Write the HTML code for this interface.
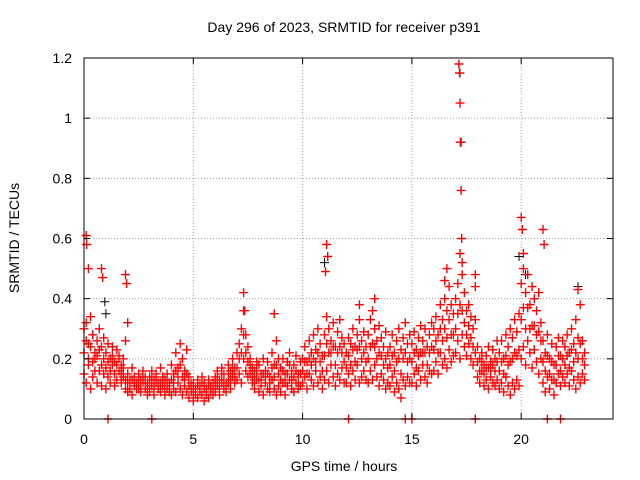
<!DOCTYPE html>
<html><head><meta charset="utf-8"><style>
body{margin:0;background:#fff;}
svg{display:block;font-family:"Liberation Sans",sans-serif;}
</style></head><body>
<svg id="chart" width="640" height="480" viewBox="0 0 640 480">
<rect width="640" height="480" fill="#fff"/>
<text x="344" y="32" font-size="14" text-anchor="middle">Day 296 of 2023, SRMTID for receiver p391</text>
<text x="344" y="471" font-size="14" text-anchor="middle">GPS time / hours</text>
<text transform="translate(19,238) rotate(-90)" font-size="14" text-anchor="middle">SRMTID / TECUs</text>
<g id="grid"></g>
<g id="marks"></g>
<rect x="84" y="58" width="529" height="361" fill="none" stroke="#000" stroke-width="1"/>
<g id="ticks"></g>
</svg>
<script>
const xTicks=[0,5,10,15,20];
const yTicks=[0,0.2,0.4,0.6,0.8,1,1.2];
const yTickLabels=["0","0.2","0.4","0.6","0.8","1","1.2"];
const startHour=0, stepHour=0.1;
const lo=[.15,.12,.18,.10,.14,.20,.12,.16,.11,.15,.10,.14,.12,.18,.11,.13,.16,.12,.14,.10,.09,.12,.08,.11,.10,.13,.09,.12,.10,.08,.09,.11,.08,.12,.10,.09,.11,.08,.10,.09,.08,.12,.09,.14,.10,.08,.11,.09,.07,.10,.06,.09,.07,.10,.08,.06,.09,.07,.10,.08,.09,.11,.08,.12,.10,.09,.12,.10,.14,.12,.13,.15,.12,.20,.16,.14,.18,.12,.10,.13,.09,.11,.08,.12,.10,.09,.13,.10,.08,.11,.09,.12,.08,.11,.13,.10,.09,.12,.10,.11,.12,.14,.10,.15,.13,.11,.16,.12,.14,.10,.13,.16,.12,.18,.14,.11,.15,.13,.17,.12,.12,.15,.11,.16,.13,.18,.12,.14,.16,.13,.12,.16,.13,.18,.14,.11,.15,.13,.10,.12,.11,.14,.09,.12,.10,.07,.13,.11,.14,.12,.12,.15,.11,.16,.13,.18,.14,.12,.16,.15,.16,.19,.15,.22,.18,.20,.17,.23,.19,.21,.22,.26,.20,.28,.24,.21,.25,.20,.18,.22,.14,.12,.16,.11,.13,.10,.14,.12,.11,.13,.10,.12,.09,.14,.11,.08,.12,.10,.13,.11,.20,.24,.18,.26,.22,.17,.23,.19,.15,.20,.12,.09,.14,.10,.13,.08,.12,.15,.11,.14,.12,.15,.11,.16,.13,.10,.14,.12,.15,.13];
const mid=[.22,.26,.20,.24,.19,.16,.21,.23,.18,.20,.17,.19,.16,.21,.15,.18,.20,.15,.17,.13,.12,.10,.13,.12,.11,.10,.12,.14,.12,.10,.11,.13,.10,.14,.11,.12,.13,.10,.12,.11,.13,.10,.16,.12,.18,.14,.13,.15,.11,.09,.09,.08,.11,.09,.12,.10,.08,.11,.09,.10,.11,.13,.10,.15,.12,.11,.15,.13,.17,.15,.17,.20,.22,.28,.22,.19,.15,.14,.13,.16,.13,.13,.15,.14,.15,.12,.17,.14,.18,.15,.13,.16,.12,.15,.18,.13,.14,.16,.12,.15,.16,.19,.15,.20,.18,.20,.19,.22,.19,.16,.21,.25,.22,.22,.24,.18,.22,.24,.22,.19,.17,.21,.18,.23,.19,.23,.24,.20,.22,.19,.20,.24,.25,.24,.20,.22,.21,.18,.20,.17,.18,.21,.16,.19,.20,.15,.20,.22,.19,.20,.19,.22,.17,.21,.22,.22,.22,.18,.22,.24,.23,.26,.22,.30,.26,.30,.27,.33,.28,.28,.30,.35,.38,.36,.32,.28,.31,.27,.24,.33,.19,.16,.19,.15,.17,.17,.17,.18,.16,.19,.16,.19,.15,.21,.18,.19,.20,.22,.21,.23,.33,.37,.30,.37,.30,.31,.31,.28,.29,.26,.19,.16,.21,.15,.19,.13,.18,.21,.16,.20,.18,.21,.17,.23,.19,.22,.20,.25,.20,.18];
const hi=[.30,.32,.25,.34,.28,.22,.26,.30,.24,.27,.22,.25,.20,.24,.19,.23,.21,.18,.20,.26,.15,.13,.17,.14,.12,.15,.13,.16,.14,.12,.14,.16,.13,.15,.12,.17,.14,.13,.15,.12,.18,.15,.22,.17,.25,.20,.16,.23,.14,.12,.12,.10,.13,.11,.14,.12,.10,.13,.11,.12,.14,.16,.13,.17,.15,.12,.18,.16,.20,.17,.22,.25,.30,.36,.28,.24,.20,.17,.16,.19,.18,.15,.20,.16,.19,.14,.22,.18,.26,.20,.17,.20,.15,.19,.22,.16,.18,.21,.15,.19,.20,.24,.19,.26,.22,.28,.23,.30,.25,.21,.28,.34,.30,.26,.32,.24,.29,.33,.27,.25,.22,.27,.25,.30,.24,.28,.33,.26,.29,.24,.28,.33,.36,.30,.26,.31,.27,.24,.29,.22,.24,.28,.22,.26,.30,.23,.27,.32,.25,.28,.25,.29,.23,.27,.31,.26,.30,.24,.28,.32,.30,.34,.28,.38,.33,.40,.36,.44,.38,.35,.40,.45,.55,.48,.42,.36,.38,.34,.30,.44,.24,.20,.22,.18,.21,.24,.19,.23,.20,.26,.22,.26,.20,.28,.24,.30,.27,.33,.29,.35,.45,.50,.42,.48,.38,.44,.40,.36,.42,.32,.26,.22,.28,.20,.25,.18,.24,.27,.21,.26,.24,.28,.22,.30,.25,.33,.27,.38,.26,.22];
const spikeHours=[0.1,0.12,0.2,0.8,0.85,1.9,1.95,2.0,7.3,7.35,8.7,11.1,11.15,11.05,12.6,13.3,16.6,16.5,17.15,17.18,17.2,17.22,17.25,17.28,17.3,17.9,20.0,20.05,20.1,21.0,21.05,22.6];
const spikeValues=[0.61,0.58,0.50,0.50,0.47,0.48,0.45,0.32,0.42,0.36,0.35,0.58,0.54,0.49,0.38,0.40,0.50,0.46,1.18,1.15,1.05,0.92,0.76,0.60,0.52,0.48,0.67,0.63,0.55,0.63,0.58,0.43];
const zeroHours=[1.1,3.1,12.1,14.7,15.0,17.9,21.2,21.8];
const blackHours=[0.95,1.0,11.0,17.2,17.25,19.9,20.2,22.6];
const blackValues=[0.39,0.35,0.52,1.15,0.92,0.54,0.48,0.44];

const X0=84,X1=613,Y0=419,Y1=58,XMAX=24.2,YMAX=1.2;
const xs=h=>X0+(h/XMAX)*(X1-X0);
const ys=v=>Y0-(v/YMAX)*(Y0-Y1);
const NS="http://www.w3.org/2000/svg";
const grid=document.getElementById('grid'),ticks=document.getElementById('ticks'),marks=document.getElementById('marks');
function mk(tag,attrs,parent){const e=document.createElementNS(NS,tag);for(const k in attrs)e.setAttribute(k,attrs[k]);parent.appendChild(e);return e;}
yTicks.forEach((v,i)=>{
  const y=ys(v);
  if(v>0&&v<YMAX){const g=mk('line',{x1:X0,x2:X1,y1:y,y2:y,stroke:'#a0a0a0','stroke-dasharray':'1,2'},grid);
  
  }
  const t=mk('text',{x:72,y:y+5,'font-size':14,'text-anchor':'end'},ticks);t.textContent=yTickLabels[i];
  
  
  mk('line',{x1:X0,x2:X0+6,y1:y,y2:y,stroke:'#000'},ticks);
  mk('line',{x1:X1,x2:X1-6,y1:y,y2:y,stroke:'#000'},ticks);
});
xTicks.forEach(h=>{
  const x=xs(h);
  if(h>0){const g=mk('line',{x1:x,x2:x,y1:Y0,y2:Y1,stroke:'#a0a0a0','stroke-dasharray':'1,2'},grid);
  
  }
  const t=mk('text',{x:x,y:444,'font-size':14,'text-anchor':'middle'},ticks);t.textContent=String(h);
  
  
  mk('line',{x1:x,x2:x,y1:Y0,y2:Y0-6,stroke:'#000'},ticks);
  mk('line',{x1:x,x2:x,y1:Y1,y2:Y1+6,stroke:'#000'},ticks);
});
let d='',db='';
const plus=(h,v)=>{const x=xs(h),y=ys(v);return `M${(x-4.5).toFixed(1)} ${y.toFixed(1)}h9M${x.toFixed(1)} ${(y-4.5).toFixed(1)}v9`;};
blackValues.forEach((v,i)=>{db+=plus(blackHours[i],v);});
[lo,mid,hi].forEach(arr=>arr.forEach((v,i)=>{d+=plus(startHour+i*stepHour,v);}));
spikeValues.forEach((v,i)=>{d+=plus(spikeHours[i],v);});
zeroHours.forEach(h=>{d+=plus(h,0);});
const pb=mk('path',{d:db,stroke:'#000','stroke-width':1,fill:'none'},marks);


const pr=mk('path',{d:d,stroke:'#ff0000','stroke-width':1.4,fill:'none'},marks);


</script>
</body></html>
